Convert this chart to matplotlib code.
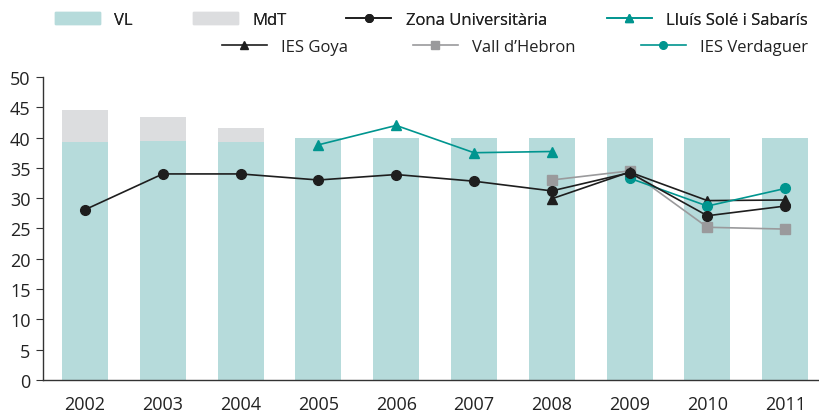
import matplotlib.pyplot as plt
import numpy as np
from matplotlib.patches import Patch
from matplotlib.lines import Line2D

plt.rcParams['font.family'] = ['Open Sans', 'DejaVu Sans']

years = ['2002', '2003', '2004', '2005', '2006', '2007', '2008', '2009', '2010', '2011']
vl = [39.2, 39.5, 39.3, 40, 40, 40, 40, 40, 40, 40]
mdt = [5.4, 3.9, 2.3, 0, 0, 0, 0, 0, 0, 0]

zona = [28.1, 34.0, 34.0, 33.0, 33.9, 32.8, 31.2, 34.2, 27.1, 28.7]
lluis = [np.nan, np.nan, np.nan, 38.8, 42.0, 37.5, 37.7, np.nan, np.nan, np.nan]
goya = [np.nan] * 6 + [29.9, 34.3, 29.6, 29.7]
vall = [np.nan] * 6 + [33.0, 34.5, 25.2, 24.9]
verdaguer = [np.nan] * 7 + [33.3, 28.7, 31.6]

c_vl = '#b6dbdb'
c_mdt = '#dcdddf'
c_teal = '#00958f'
c_black = '#1e1e1e'
c_gray = '#9a9a9c'

fig = plt.figure(figsize=(8.2, 4.14), dpi=100)
ax = fig.add_axes([0.0524, 0.0797, 0.945, 0.732])
x = np.arange(len(years))

ax.bar(x, vl, 0.59, color=c_vl, zorder=1)
ax.bar(x, mdt, 0.59, bottom=vl, color=c_mdt, zorder=1)

ax.plot(x, vall, color=c_gray, lw=1.2, marker='s', ms=7, zorder=2)
ax.plot(x, lluis, color=c_teal, lw=1.2, marker='^', ms=7, zorder=3)
ax.plot(x, goya, color=c_black, lw=1.2, marker='^', ms=7, zorder=3)
ax.plot(x, verdaguer, color=c_teal, lw=1.2, marker='o', ms=7, zorder=3)
ax.plot(x, zona, color=c_black, lw=1.2, marker='o', ms=7, zorder=4)

ax.set_xlim(-0.54, 9.42)
ax.set_ylim(0, 50)
ax.set_yticks(range(0, 51, 5))
ax.set_xticks(x)
ax.set_xticklabels(years)
for s in ['top', 'right']:
    ax.spines[s].set_visible(False)
for s in ['left', 'bottom']:
    ax.spines[s].set_color('#333333')
    ax.spines[s].set_linewidth(1.0)
ax.tick_params(axis='y', length=5, color='#333333', labelsize=13, labelcolor='#222222', pad=4)
ax.tick_params(axis='x', length=0, labelsize=13, labelcolor='#222222', pad=11)

row1 = [Patch(color=c_vl, label='VL'),
        Patch(color=c_mdt, label='MdT'),
        Line2D([], [], color=c_black, marker='o', ms=5.5, lw=1.2, label='Zona Universitària'),
        Line2D([], [], color=c_teal, marker='^', ms=5.5, lw=1.2, label='Lluís Solé i Sabarís')]
row2 = [Line2D([], [], color=c_black, marker='^', ms=5.5, lw=1.2, label='IES Goya'),
        Line2D([], [], color=c_gray, marker='s', ms=5.5, lw=1.2, label='Vall d\u2019Hebron'),
        Line2D([], [], color=c_teal, marker='o', ms=5.5, lw=1.2, label='IES Verdaguer')]

kw = dict(frameon=False, fontsize=12, handlelength=2.7, handleheight=0.8,
          handletextpad=0.85, labelcolor='#222222', borderaxespad=0, borderpad=0)
leg1 = fig.legend(handles=row1, ncol=4, loc='center right', columnspacing=3.6,
                  bbox_to_anchor=(0.985, 0.950), **kw)
fig.add_artist(leg1)
fig.legend(handles=row2, ncol=3, loc='center right', columnspacing=3.9,
           bbox_to_anchor=(0.985, 0.885), **kw)

fig.savefig('out.png', dpi=100)
